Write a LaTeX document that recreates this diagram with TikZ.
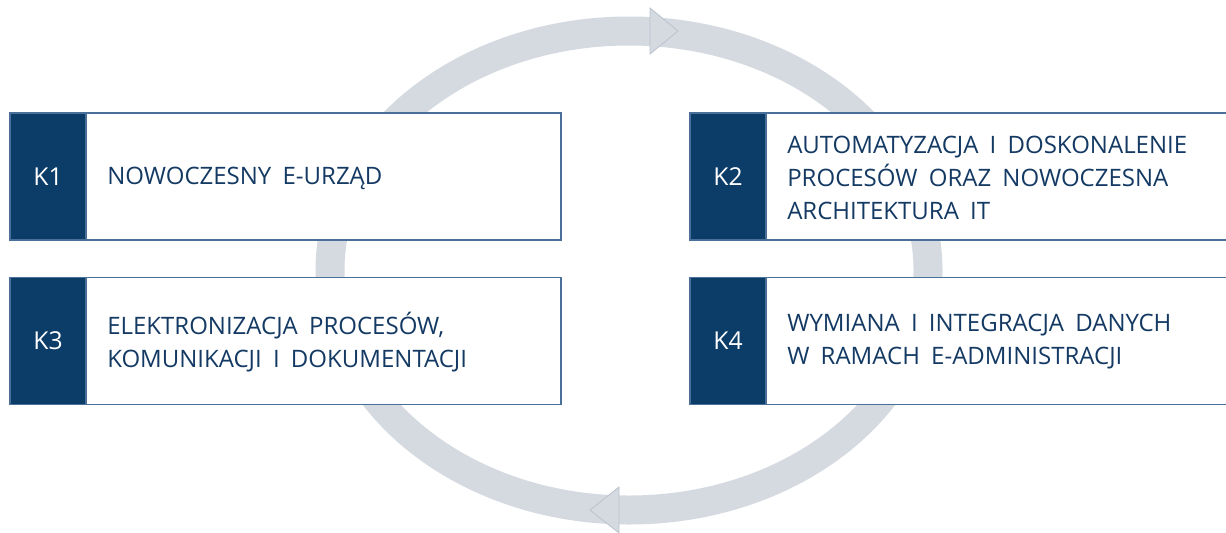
\documentclass[tikz,border=0pt]{standalone}
\usepackage{fontspec}
\setmainfont{Open Sans}
\newfontfamily\boxfont[WordSpace=1.8]{Open Sans}
\definecolor{ringc}{HTML}{D5DAE1}
\definecolor{ringedge}{HTML}{BAC2CE}
\definecolor{darkp}{HTML}{0C3D69}
\definecolor{framec}{HTML}{4A7099}
\definecolor{txtc}{HTML}{143A64}
\begin{document}
\begin{tikzpicture}[x=0.75pt,y=-0.75pt,
  ring/.style={draw=ringc, line width=29*0.75pt},
  head/.style={fill=ringc, draw=ringedge, line width=0.6pt, line join=miter},
  frame/.style={draw=framec, fill=white, line width=1.6*0.75pt, minimum width=551*0.75pt, minimum height=127*0.75pt, inner sep=0pt},
  tab/.style={fill=darkp, draw=framec, line width=1.6*0.75pt, minimum width=76*0.75pt, minimum height=127*0.75pt, inner sep=0pt, text=white, font=\boxfont\fontsize{18.5}{24.75}\selectfont},
  label/.style={anchor=west, align=left, inner sep=0pt, text=txtc, font=\boxfont\fontsize{18}{24.75}\selectfont}
]
\useasboundingbox (0,0) rectangle (1226,532);
\clip (0,0) rectangle (1226,532);
\fill[white] (0,0) rectangle (1226,532);
% cycle ring
\draw[ring] (629,270.5) ellipse [x radius=299, y radius=239.5];
\draw[head] (650,8) -- (678,31) -- (650,54) -- cycle;
\draw[head] (619,487) -- (590,510) -- (619,533) -- cycle;
% boxes
\node[frame] (b1) at (285.5,176.5) {};
\node[tab] (t1) at (48,176.5) {K1};
\node[label] (l1) at (107,178) {NOWOCZESNY E-URZĄD};

\node[frame] (b2) at (965.5,176.5) {};
\node[tab] (t2) at (728,176.5) {K2};
\node[label] (l2) at (787,178) {AUTOMATYZACJA I DOSKONALENIE\\PROCESÓW ORAZ NOWOCZESNA\\ARCHITEKTURA IT};

\node[frame] (b3) at (285.5,341) {};
\node[tab] (t3) at (48,341) {K3};
\node[label] (l3) at (107,342) {ELEKTRONIZACJA PROCESÓW,\\KOMUNIKACJI I DOKUMENTACJI};

\node[frame] (b4) at (965.5,341) {};
\node[tab] (t4) at (728,341) {K4};
\node[label] (l4) at (787,342) {WYMIANA I INTEGRACJA DANYCH\\W RAMACH E-ADMINISTRACJI};
\end{tikzpicture}
\end{document}
